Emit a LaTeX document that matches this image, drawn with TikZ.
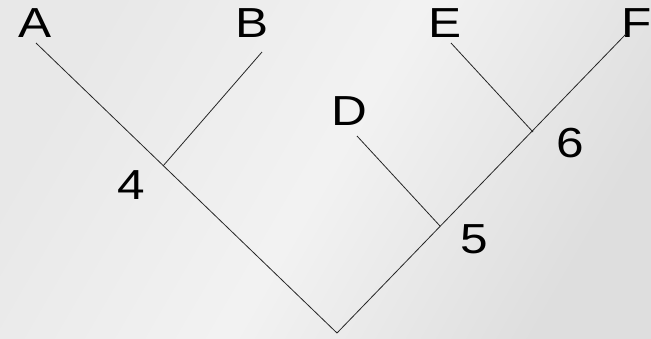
\documentclass[tikz,border=0pt]{standalone}
\usepackage{fontspec}
\setmainfont{Liberation Sans}[FakeStretch=1.18]
\usetikzlibrary{positioning}

\begin{document}
\begin{tikzpicture}[
    x=1pt, y=-1pt,
    lbl/.style={inner sep=0pt, font=\fontsize{42}{42}\selectfont},
    edge/.style={line width=0.8pt, draw=black!85}
]
    % background
    \useasboundingbox (0,0) rectangle (651,338);
    \shade[left color=black!9, right color=black!13, middle color=black!5, shading angle=60] (0,0) rectangle (651,338);

    % ends of the branches and joins
    \coordinate (tipA) at (36,43);
    \coordinate (tipB) at (262,52);
    \coordinate (tipD) at (357,136);
    \coordinate (tipE) at (451,43);
    \coordinate (tipF) at (626,34);
    \coordinate (j4) at (163,166);
    \coordinate (j5) at (440,226);
    \coordinate (j6) at (533,132);
    \coordinate (root) at (337,333);

    % leaves
    \node[lbl] (A) at (35,23) {A};
    \node[lbl] (B) at (252,23) {B};
    \node[lbl] (D) at (349,111) {D};
    \node[lbl] (E) at (445,23) {E};
    \node[lbl] (F) at (637,23) {F};

    % inner labels
    \node[lbl] (n4) at (131,185) {4};
    \node[lbl] (n5) at (474,239) {5};
    \node[lbl] (n6) at (570,143) {6};

    \draw[edge] (tipA) -- (root);
    \draw[edge] (tipB) -- (j4);
    \draw[edge] (tipF) -- (root);
    \draw[edge] (tipD) -- (j5);
    \draw[edge] (tipE) -- (j6);
\end{tikzpicture}
\end{document}
